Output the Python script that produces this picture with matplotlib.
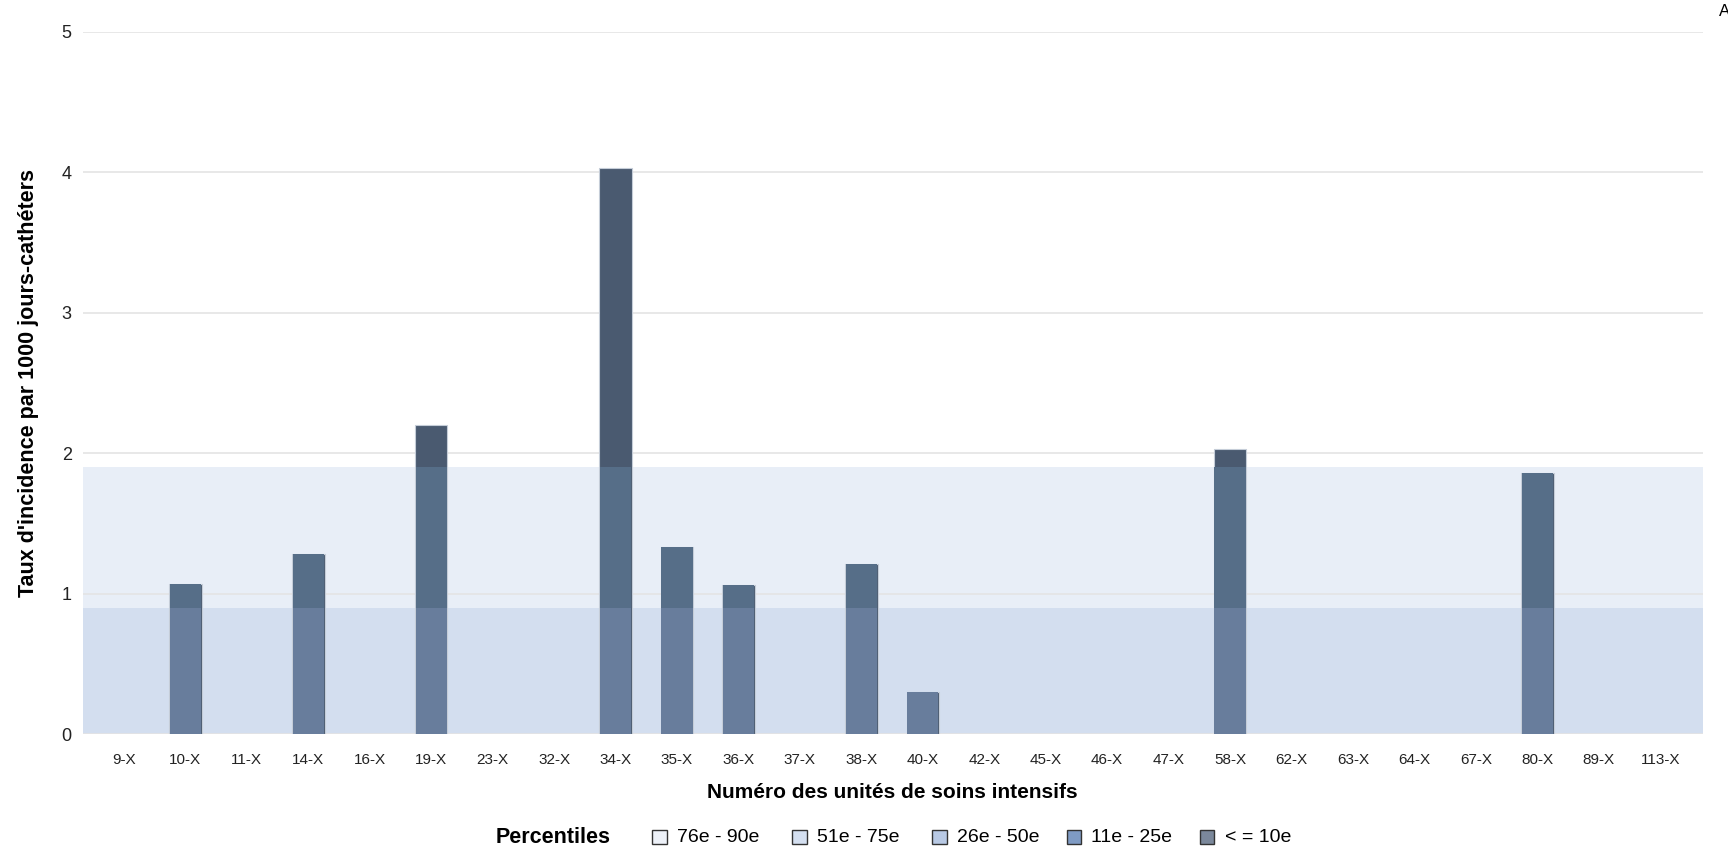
import numpy as np
import matplotlib
matplotlib.use("Agg")
import matplotlib.pyplot as plt
from matplotlib.patches import Rectangle

units = ["9-X", "10-X", "11-X", "14-X", "16-X", "19-X", "23-X", "32-X", "34-X",
         "35-X", "36-X", "37-X", "38-X", "40-X", "42-X", "45-X", "46-X", "47-X",
         "58-X", "62-X", "63-X", "64-X", "67-X", "80-X", "89-X", "113-X"]
rates = [0, 1.07, 0, 1.28, 0, 2.20, 0, 0, 4.03,
         1.33, 1.06, 0, 1.21, 0.30, 0, 0, 0, 0,
         2.03, 0, 0, 0, 0, 1.86, 0, 0]
band_limits = [0.9, 1.9]
legend_labels = ["76e - 90e", "51e - 75e", "26e - 50e", "11e - 25e", "< = 10e"]
legend_colors = ["#edf1f8", "#d4dff0", "#b8c9e4", "#7f9bc4", "#7b889b"]

plt.rcParams['font.family'] = ['Liberation Sans', 'DejaVu Sans']

fig = plt.figure(figsize=(17.28, 8.48), dpi=100)
ax = fig.add_axes([0.0479, 0.1344, 0.9374, 0.8279])

x = np.arange(len(units))
vals = np.array(rates)

# background percentile bands
ax.axhspan(0, band_limits[0], color="#d3deef", zorder=0, lw=0)
ax.axhspan(band_limits[0], band_limits[1], color="#e8eef7", zorder=0, lw=0)

for yv in range(0, 6):
    ax.axhline(yv, color="#e4e4e4", lw=1.2, zorder=1)

w = 0.53
mask = vals > 0
ax.bar(x[mask], vals[mask], width=w, color="#4a5a70", edgecolor="#c5cdd8", lw=0.8, zorder=2)
ax.bar(x[mask], np.minimum(vals, band_limits[1])[mask], width=w - 0.02, color="#566e88", lw=0, zorder=3)
ax.bar(x[mask], np.minimum(vals, band_limits[0])[mask], width=w - 0.02, color="#687d9c", lw=0, zorder=4)

ax.set_xlim(-0.67, len(units) - 1 + 0.69)
ax.set_ylim(0, 5)
ax.set_yticks(range(0, 6))
ax.set_xticks(x)
ax.set_xticklabels(units)
for s in ax.spines.values():
    s.set_visible(False)
ax.tick_params(axis="both", length=0, labelsize=13, colors="#222222")
ax.tick_params(axis="x", labelsize=11, pad=14)
ax.tick_params(axis="y", pad=8)

ax.set_xlabel("Numéro des unités de soins intensifs", fontsize=15, fontweight="bold", labelpad=11)
ax.set_ylabel("Taux d'incidence par 1000 jours-cathéters", fontsize=15.5, fontweight="bold", labelpad=16)

# legend row
fig.text(0.320, 0.0125, "Percentiles", fontsize=15.5, fontweight="bold", va="center", ha="center")
xs = [0.3776, 0.4585, 0.5395, 0.6173, 0.6945]
for xp, lab, col in zip(xs, legend_labels, legend_colors):
    fig.patches.append(Rectangle((xp, 0.0045), 0.0083, 0.0169, transform=fig.transFigure,
                                 facecolor=col, edgecolor="#333333", lw=1))
    fig.text(xp + 0.0142, 0.0125, lab, fontsize=14, va="center", ha="left")

fig.text(0.9945, 0.987, "A", fontsize=12, ha="left", va="center")

fig.savefig("out.png", dpi=100)
